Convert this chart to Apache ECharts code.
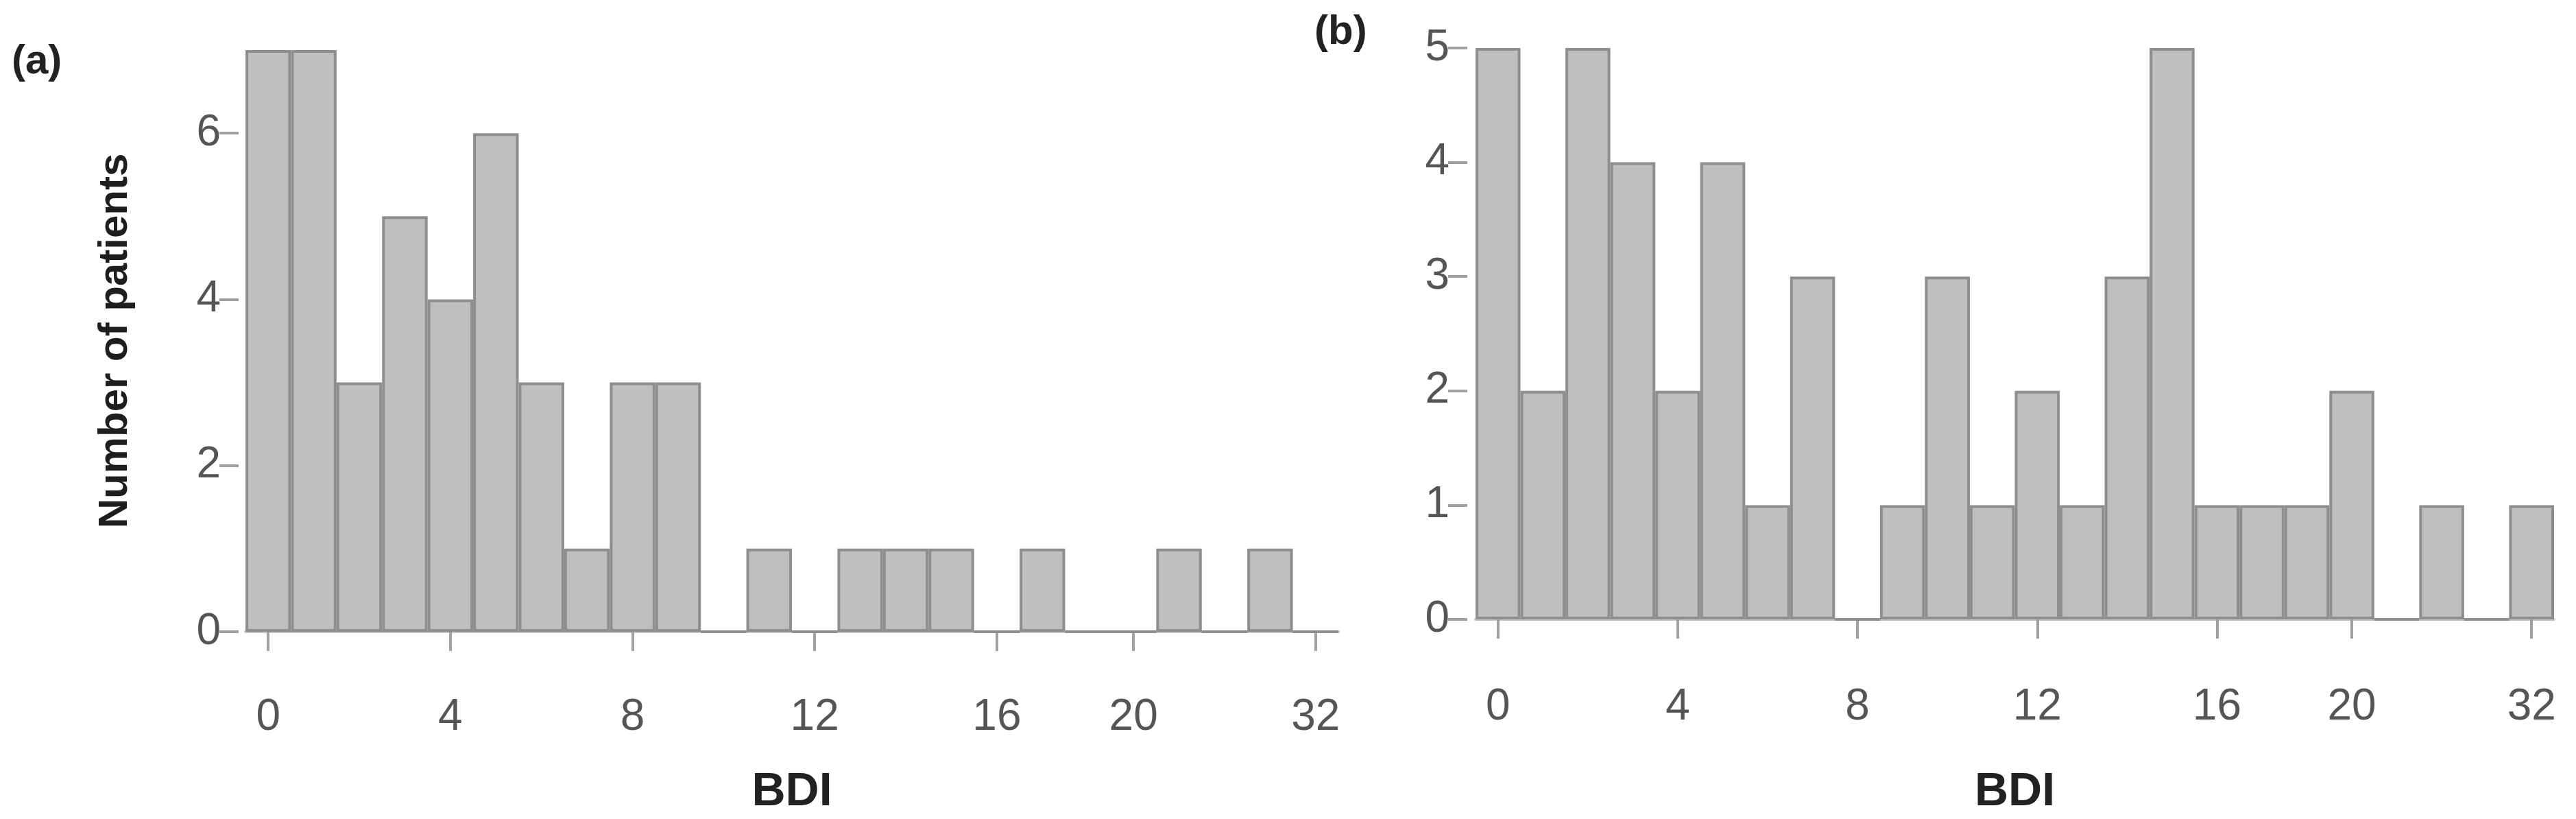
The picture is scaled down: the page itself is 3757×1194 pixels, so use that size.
<!DOCTYPE html>
<html><head><meta charset="utf-8">
<script src="https://cdn.jsdelivr.net/npm/echarts@6/dist/echarts.min.js"></script>
<style>html,body{margin:0;padding:0;background:#fff}#c{width:3757px;height:1194px}</style>
</head><body><div id="c"></div>
<script>
const bins = Array.from({length:24},(_,i)=>String(i));
const countsA = [7,7,3,5,4,6,3,1,3,3,0,1,0,1,1,1,0,1,0,0,1,0,1,0];
const countsB = [5,2,5,4,2,4,1,3,0,1,3,1,2,1,3,5,1,1,1,2,0,1,0,1];
const tickIdx = [0,4,8,12,16,19,23];
const tickText = ['0','4','8','12','16','20','32'];
const yTicksA = [0,2,4,6];
const yTicksB = [0,1,2,3,4,5];

const FONT = "'Liberation Sans Narrow','Liberation Sans',Arial,sans-serif";
const chart = echarts.init(document.getElementById('c'));
function xAx(gi, offset, margin, nameGap){
  return {type:'category', gridIndex:gi, data:bins, offset:offset,
    axisLine:{show:true,lineStyle:{color:'#c4c4c4',width:4}},
    axisTick:{show:true,alignWithLabel:true,length:28,interval:(i)=>tickIdx.includes(i),lineStyle:{color:'#a0a0a0',width:4}},
    axisLabel:{interval:(i)=>tickIdx.includes(i),formatter:(v,i)=>tickText[tickIdx.indexOf(i)]||'',
      color:'#555',fontSize:64,fontFamily:FONT,margin:margin},
    name:'BDI',nameLocation:'middle',nameGap:nameGap,
    nameTextStyle:{color:'#222',fontSize:68,fontWeight:'bold',fontFamily:FONT},
    splitLine:{show:false}};
}
function yAx(gi, max, ticks, offset, name){
  return {type:'value', gridIndex:gi, min:0, max:max, offset:offset,
    axisLine:{show:false},
    axisTick:{show:true,length:28,customValues:ticks,lineStyle:{color:'#a0a0a0',width:4}},
    axisLabel:{color:'#555',fontSize:64,fontFamily:FONT,margin:26,customValues:ticks},
    splitLine:{show:false},
    name:name,nameLocation:'middle',nameGap:150,nameRotate:90,
    nameTextStyle:{color:'#1e1e1e',fontSize:60,fontWeight:'bold',fontFamily:"'Liberation Sans',Arial,sans-serif"}};
}
const barStyle = {color:'#bfbfbf',borderColor:'#8e8e8e',borderWidth:4};
chart.setOption({
  animation:false,
  backgroundColor:'#fff',
  title:[
    {text:'(a)',left:12,top:55,textStyle:{fontSize:60,fontWeight:'bold',color:'#222',fontFamily:"'Liberation Sans',Arial"}},
    {text:'(b)',left:1912,top:12,textStyle:{fontSize:60,fontWeight:'bold',color:'#222',fontFamily:"'Liberation Sans',Arial"}}
  ],
  grid:[
    {left:358,top:73,width:1594,height:859},
    {left:2152,top:70,width:1573,height:848}
  ],
  xAxis:[xAx(0,43,50,157), xAx(1,44,52,174)],
  yAxis:[yAx(0,7,yTicksA,10,'Number of patients'), yAx(1,5,yTicksB,12,'')],
  series:[
    {type:'bar',xAxisIndex:0,yAxisIndex:0,data:countsA,barWidth:'100%',barGap:'0%',itemStyle:barStyle},
    {type:'bar',xAxisIndex:1,yAxisIndex:1,data:countsB,barWidth:'100%',barGap:'0%',itemStyle:barStyle}
  ]
});
</script></body></html>
